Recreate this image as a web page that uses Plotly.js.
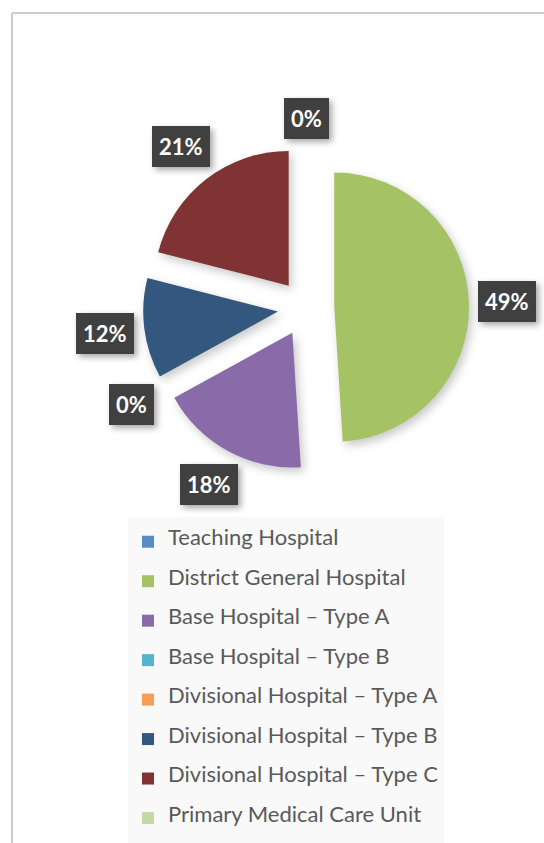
<!DOCTYPE html>
<html><head><meta charset="utf-8">
<script src="https://cdn.plot.ly/plotly-3.0.1.min.js"></script>
<style>
html,body{margin:0;padding:0;background:#fff;}
#chart{width:544px;height:843px;}
.pielayer path.surface{filter:drop-shadow(3px 4px 5px rgba(0,0,0,0.22));}
.annotation rect.bg{filter:drop-shadow(3px 3px 3px rgba(0,0,0,0.35));}
</style></head><body><div id="chart"></div>
<script>
// ---- data ----
const categories = ['Teaching Hospital','District General Hospital','Base Hospital – Type A','Base Hospital – Type B','Divisional Hospital – Type A','Divisional Hospital – Type B','Divisional Hospital – Type C','Primary Medical Care Unit'];
const shares = [0, 49, 18, 0, 0, 12, 21, 0];
const labelShown = [true, true, true, true, false, true, true, false];
const colors = ['#5B8BC9','#A5C264','#8A6BA9','#53B4CE','#F99D52','#33577F','#7F3433','#C4D8A3'];

// ---- layout constants ----
const W = 544, H = 843;
const pull = 0.21;
const dom = {x:[143/W, 469/W], y:[1-471/H, 1-145/H]};

const trace = {
  type:'pie',
  values: shares,
  labels: categories.map(c => '&nbsp;<br><span style="font-size:22px">'+c+'</span><br>&nbsp;'),
  marker:{colors: colors, line:{width:0}},
  sort:false, direction:'clockwise', rotation:0,
  pull: pull,
  textinfo:'none', hoverinfo:'label+percent',
  domain: dom
};

// data labels placed from the pie geometry
const total = shares.reduce((a,b)=>a+b,0);
const halfPx = Math.min((dom.x[1]-dom.x[0])*W, (dom.y[1]-dom.y[0])*H)/2;
const R = halfPx/(1+pull);
const cx = (dom.x[0]+dom.x[1])/2*W, cy = (1-(dom.y[0]+dom.y[1])/2)*H;
const annotations = [];
let cum = 0;
shares.forEach((v,i)=>{
  const a = (cum + v/2)/total*2*Math.PI;
  cum += v;
  if(!labelShown[i]) return;
  const txt = Math.round(v/total*100)+'%';
  const bw = 14*txt.length+20, bh = 40;
  const ux = Math.sin(a), uy = -Math.cos(a);
  const d = R*(1+pull) + 6 + Math.abs(ux)*bw/2 + Math.abs(uy)*bh/2;
  annotations.push({
    xref:'paper', yref:'paper', x:(cx+ux*d)/W, y:1-(cy+uy*d)/H,
    xanchor:'center', yanchor:'middle', showarrow:false,
    text:'<b>'+txt+'</b>',
    font:{family:'Lato, sans-serif', size:22, color:'#ffffff'},
    bgcolor:'#404040', borderpad:7, borderwidth:0
  });
});

const layout = {
  width:W, height:H,
  margin:{l:0,r:0,t:0,b:0},
  paper_bgcolor:'#ffffff',
  showlegend:true,
  legend:{x:128/W, y:1-517/H, xanchor:'left', yanchor:'top',
    bgcolor:'#f9f9f9', valign:'middle',
    font:{family:'Lato, sans-serif', size:9.35, color:'#595959'}},
  annotations: annotations,
  shapes:[
    {type:'line', xref:'paper', yref:'paper', x0:12/W, x1:12/W, y0:0, y1:1-13/H, line:{color:'#cccccc', width:2}},
    {type:'line', xref:'paper', yref:'paper', x0:12/W, x1:1, y0:1-13/H, y1:1-13/H, line:{color:'#cccccc', width:2}}
  ]
};
Plotly.newPlot('chart', [trace], layout, {displayModeBar:false, staticPlot:true});
</script></body></html>
